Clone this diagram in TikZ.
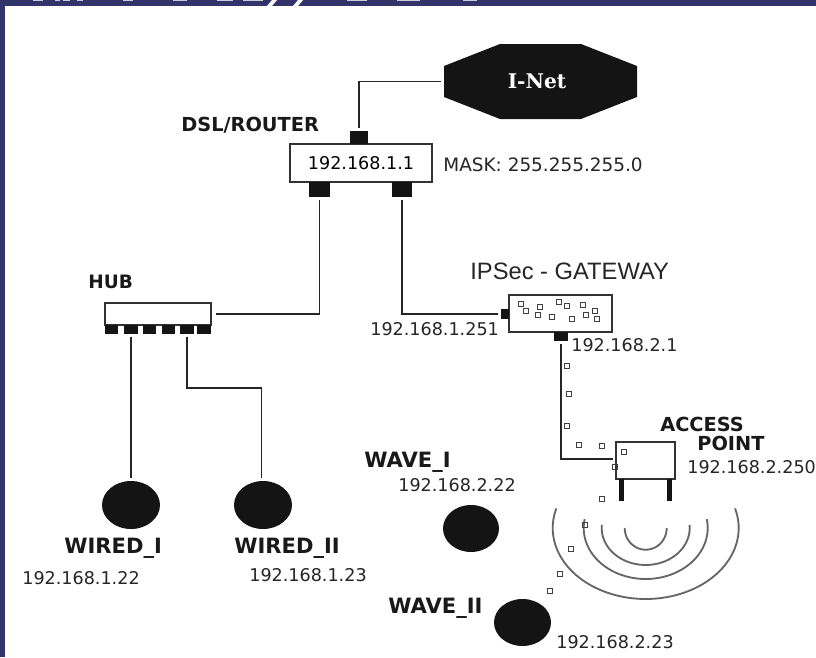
\documentclass[tikz,border=0pt]{standalone}
\usepackage{fontspec}
\setmainfont{DejaVu Sans}
\newfontfamily\netfont{DejaVu Serif}
\newfontfamily\gwfont{Liberation Sans}
\usetikzlibrary{shapes.geometric}
\definecolor{frameblue}{HTML}{33336B}

\begin{document}
\begin{tikzpicture}[x=0.02cm, y=-0.02cm,
  box/.style={draw=black!80, line width=1.1pt, fill=white, inner sep=0pt, outer sep=0pt},
  port/.style={fill=black!92, inner sep=0pt, outer sep=0pt},
  client/.style={ellipse, fill=black!92, inner sep=0pt, outer sep=0pt},
  wire/.style={line width=1pt, black!85, shorten >=1.5pt, shorten <=1.5pt},
  pkt/.style={draw=black!75, line width=0.8pt, inner sep=0pt, outer sep=0pt, minimum size=0.1cm},
  wave/.style={line width=1.05pt, black!60},
  iplabel/.style={anchor=west, inner sep=0pt, black!85, font=\fontsize{10}{12}\selectfont},
  devlabel/.style={anchor=west, inner sep=0pt, black!90, font=\fontsize{11}{12}\selectfont\bfseries},
  hostlabel/.style={devlabel, font=\fontsize{12}{12}\selectfont\bfseries}]
\useasboundingbox (0,0) rectangle (816,657);
% frame of the slide, bullets and the cut title
\fill[frameblue] (0,0) rectangle (816,657);
\foreach \y in {91,203.5,316}
  \fill[black!92] (8.5,\y) circle (0.14);
\fill[white] (5,6) rectangle (816,657);
\foreach \a/\b in {33/43,55/60,63/70,77/83,123/133,173/187,217/233,243/263,347/367,397/420,463/477}
  \fill[white!75!frameblue] (\a,0) rectangle (\b,0.8);
\fill[white] (272,0) -- (277,0) -- (272,6) -- (267,6) -- cycle;
\fill[white] (298,0) -- (303,0) -- (298,6) -- (293,6) -- cycle;
% internet
\fill[black!92] (444,66) -- (500,44) -- (581,44) -- (637,66) -- (637,97) -- (581,119) -- (500,119) -- (444,97) -- cycle;
\node[white, inner sep=0pt, minimum width=3.72cm, minimum height=1.5cm, font=\netfont\fontsize{11.5}{12}\selectfont\bfseries] (inet) at (537,81.5) {I-Net};
% router
\node[box, minimum width=2.84cm, minimum height=0.76cm, font=\fontsize{10}{12}\selectfont] (router) at (361,163) {192.168.1.1};
\node[port, minimum width=0.36cm, minimum height=0.26cm] (routertop) at (359,137.5) {};
\node[port, minimum width=0.42cm, minimum height=0.3cm] (routerhub) at (319.5,189.5) {};
\node[port, minimum width=0.4cm, minimum height=0.3cm] (routergw) at (402,189.5) {};
\node[devlabel] (routerlabel) at (181,125) {DSL/ROUTER};
\node[iplabel, font=\fontsize{10.5}{12}\selectfont] (masklabel) at (443,165) {MASK: 255.255.255.0};
% hub
\node[box, minimum width=2.12cm, minimum height=0.44cm] (hub) at (158,314) {};
\foreach \x [count=\i] in {111.5,131,149.5,168.5,187,204}
  \node[port, minimum width=0.27cm, minimum height=0.18cm] (hubport\i) at (\x,329.5) {};
\node[devlabel, font=\fontsize{10.5}{12}\selectfont\bfseries] (hublabel) at (88,282) {HUB};
% gateway
\node[box, minimum width=2.06cm, minimum height=0.74cm] (gateway) at (560.5,313.5) {};
\node[port, minimum width=0.16cm, minimum height=0.2cm] (gwleft) at (505,314) {};
\node[port, minimum width=0.28cm, minimum height=0.18cm] (gwbottom) at (561,336.5) {};
\node[anchor=west, inner sep=0pt, black!85, font=\gwfont\fontsize{13.5}{14}\selectfont] (gwlabel) at (470,271) {IPSec - GATEWAY};
\node[iplabel] (gwip) at (370,329) {192.168.1.251};
\node[iplabel] (gwipb) at (571,345) {192.168.2.1};
% access point
\node[box, minimum width=1.18cm, minimum height=0.74cm] (ap) at (645.5,460.5) {};
\node[port, minimum width=0.1cm, minimum height=0.44cm] (apleg) at (621,490) {};
\node[port, minimum width=0.1cm, minimum height=0.44cm] (aplegb) at (669,490) {};
\node[devlabel] (aplabel) at (660,424) {ACCESS};
\node[devlabel] (aplabelb) at (697,443) {POINT};
\node[iplabel] (apip) at (687,467) {192.168.2.250};
% radio waves
\foreach \rx/\ry/\a in {21/21.7/0, 44/37/-5, 62/51/-10, 93/71/-16}
  \draw[wave, domain=\a:180-\a, samples=40, smooth] plot ({645.7+\rx*cos(\x)},{528+\ry*sin(\x)});
% clients
\node[client, minimum width=1.16cm, minimum height=0.96cm] (wiredi) at (131,505) {};
\node[client, minimum width=1.16cm, minimum height=0.96cm] (wiredii) at (263,505) {};
\node[client, minimum width=1.12cm, minimum height=0.94cm] (wavei) at (471,528.5) {};
\node[client, minimum width=1.14cm, minimum height=0.94cm] (waveii) at (522.5,622.5) {};
\node[hostlabel] (wiredilabel) at (64,548) {WIRED\_I};
\node[hostlabel] (wirediilabel) at (234,548) {WIRED\_II};
\node[hostlabel] (waveilabel) at (364,462) {WAVE\_I};
\node[hostlabel] (waveiilabel) at (388,608) {WAVE\_II};
\node[iplabel] (wirediip) at (22,578) {192.168.1.22};
\node[iplabel] (wirediiip) at (249,575) {192.168.1.23};
\node[iplabel] (waveiip) at (398,485) {192.168.2.22};
\node[iplabel] (waveiiip) at (556,642) {192.168.2.23};
% wires
\coordinate (hubbend) at (224,388);
\draw[wire] (routertop.north) |- (inet.west);
\draw[wire, shorten <=3pt] (hub.east) -| (routerhub.south);
\draw[wire] (routergw.south) |- (gwleft.west);
\draw[wire] ([yshift=0.03cm]ap.west) -| (gwbottom.south);
\draw[wire] (hubport2.south) -- (wiredi.north);
\draw[wire] (hubport5.south) |- (hubbend) -| ([xshift=-0.03cm]wiredii.north);
% packets on the way
\foreach \x/\y [count=\i] in {521/304,526/311,540/307,538/315,552/317,559/302,567/306,572/319,583/305,586/315,595/311,597/319,
    567/366,569/394,567/426,579/445,602/446,624/452,615/467,602/499,585/525,571/549,560/574,550/591}
  \node[pkt] (pkt\i) at (\x,\y) {};
\end{tikzpicture}
\end{document}
